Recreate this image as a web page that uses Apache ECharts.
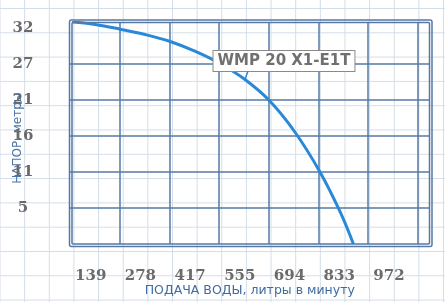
<!DOCTYPE html>
<html>
<head>
<meta charset="utf-8">
<script src="https://cdn.jsdelivr.net/npm/echarts@6/dist/echarts.min.js"></script>
<style>
html, body { margin: 0; padding: 0; }
body {
  width: 445px; height: 302px; overflow: hidden;
  background-color: #ffffff;
  background-image:
    linear-gradient(to right, #d3dde8 1px, transparent 1px),
    linear-gradient(to bottom, #d3dde8 1px, transparent 1px);
  background-size: 24.65px 24.3px;
  background-position: -0.5px 8px;
}
#chart { width: 445px; height: 302px; }
</style>
</head>
<body>
<div id="chart"></div>
<script>
// ---- data ----
const flow = [6, 70, 140, 210, 280, 349, 419, 489, 559, 629, 699, 755, 792];
const head = [33.3, 32.9, 32.2, 31.4, 30.35, 28.9, 27.05, 24.65, 21.4, 16.75, 10.75, 4.8, 0];
const xTickLabels = ['139', '278', '417', '555', '694', '833', '972'];
const yTickLabels = ['5', '11', '16', '21', '27', '32'];
const seriesName = 'WMP 20 X1-E1T';
const labelIndex = 7;
const xTitle = 'ПОДАЧА ВОДЫ, литры в минуту';
const yTitle = 'НАПОР, метры';

// ---- layout ----
const xInterval = 138.9, xMax = 1004.7;
const yInterval = 5.4, yMax = 33.2;
const G = { left: 70, top: 22.5, right: 445 - 429.5, bottom: 302 - 244 };
const dark = '#5578a6';
const curveColor = '#2a88d8';

const data = flow.map((x, i) => {
  if (i === labelIndex) {
    return { value: [x, head[i]], symbol: 'circle', symbolSize: 1, label: { show: true } };
  }
  return [x, head[i]];
});
const anchor = [flow[labelIndex], head[labelIndex]];

const chart = echarts.init(document.getElementById('chart'), null, { renderer: 'canvas' });
const numFont = { fontFamily: 'DejaVu Serif', fontWeight: 'bold', fontSize: 15, color: '#6b6b6b' };

chart.setOption({
  backgroundColor: 'transparent',
  animation: false,
  grid: { left: G.left, top: G.top, right: G.right, bottom: G.bottom, show: false,
    containLabel: false, outerBoundsMode: 'none' },
  xAxis: {
    type: 'value', min: 0, max: xMax, interval: xInterval,
    axisLine: { show: false }, axisTick: { show: false },
    splitLine: { show: true, showMinLine: false, showMaxLine: false, lineStyle: { color: dark, width: 1.5 } },
    axisLabel: Object.assign({
      margin: 25, padding: [0, 58, 0, 0], showMaxLabel: false, showMinLabel: false,
      formatter: v => xTickLabels[Math.round(v / xInterval) - 1] || ''
    }, numFont),
    name: xTitle, nameLocation: 'middle', nameGap: 40, nameMoveOverlap: false,
    nameTextStyle: { fontFamily: 'DejaVu Sans', fontSize: 12.5, color: '#3f6c9f' }
  },
  yAxis: {
    type: 'value', min: 0, max: yMax, interval: yInterval,
    axisLine: { show: false }, axisTick: { show: false },
    splitLine: { show: true, showMinLine: false, showMaxLine: false,
      lineStyle: { color: [dark, dark, dark, dark, dark, 'rgba(0,0,0,0)'], width: 1.5 } },
    axisLabel: Object.assign({
      margin: 47, align: 'center', showMaxLabel: false, showMinLabel: false,
      formatter: v => yTickLabels[Math.round(v / yInterval) - 1] || ''
    }, numFont),
    name: yTitle, nameLocation: 'middle', nameGap: 46, nameMoveOverlap: false,
    nameTextStyle: { fontFamily: 'DejaVu Sans', fontSize: 12, color: '#4a74a8', padding: [0, 10, 0, 0] }
  },
  series: [{
    name: seriesName,
    type: 'line',
    smooth: 0.4,
    symbol: 'none',
    showSymbol: true,
    data: data,
    lineStyle: { color: curveColor, width: 3 },
    itemStyle: { color: curveColor },
    label: {
      show: false, position: 'top', distance: 8,
      formatter: seriesName,
      fontFamily: 'DejaVu Sans', fontWeight: 'bold', fontSize: 15, color: '#707070',
      backgroundColor: '#ffffff', borderColor: '#8a8a8a', borderWidth: 1,
      padding: [3, 4, 2, 4]
    },
    labelLayout: { dx: 39 },
    markLine: {
      silent: true, symbol: 'none', animation: false,
      label: { show: false },
      lineStyle: { color: curveColor, width: 1.5, type: 'solid' },
      data: [[{ coord: anchor }, { coord: [anchor[0] + 8, anchor[1] + 1.2] }]]
    },
    clip: true
  }],
  graphic: [
    { type: 'rect', silent: true, z: 10,
      shape: { x: 69.5, y: 20, width: 432 - 69.5, height: 246.5 - 20, r: 2 },
      style: { fill: null, stroke: dark, lineWidth: 1.5 } },
    { type: 'rect', silent: true, z: 10,
      shape: { x: 72, y: 22.5, width: 429.5 - 72, height: 244 - 22.5, r: 1 },
      style: { fill: null, stroke: dark, lineWidth: 1.5 } }
  ]
});
</script>
</body>
</html>
